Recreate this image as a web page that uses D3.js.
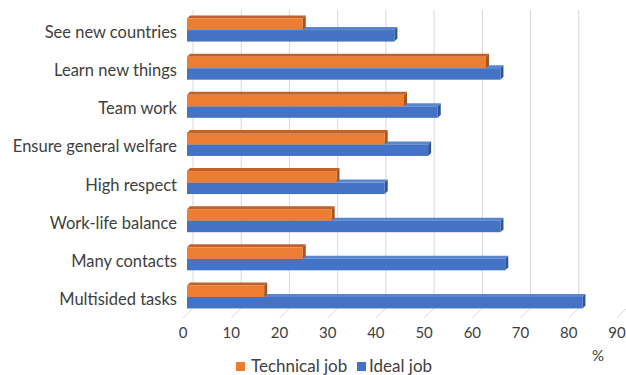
<!DOCTYPE html>
<html lang="en">
<head>
    <meta charset="UTF-8">
    <title>Technical job vs ideal job</title>
    <script src="https://d3js.org/d3.v7.min.js"></script>
    <style>
        body { margin: 0; background: #fff; }
        svg text { font-family: Lato, "Open Sans", sans-serif; fill: #404040; }
    </style>
</head>
<body>
    <div id="chart"></div>
    <script>
        // data (%)
        const categories = ["See new countries", "Learn new things", "Team work", "Ensure general welfare",
            "High respect", "Work-life balance", "Many contacts", "Multisided tasks"];
        const technicalJob = [24, 62, 45, 41, 31, 30, 24, 16];
        const idealJob = [43, 65, 52, 50, 41, 65, 66, 82];
        const ticks = [0, 10, 20, 30, 40, 50, 60, 70, 80, 90];
        const seriesNames = ["Technical job", "Ideal job"];

        const width = 626, height = 375;
        const colors = {
            "Technical job": { front: "#ed7d31", top: "#c0602a", side: "#a9541f" },
            "Ideal job": { front: "#4472c4", top: "#5a86d0", side: "#2f5597" }
        };
        const dx = 3, dy = -3; // 3d depth of the bars

        const svg = d3.select("#chart").append("svg")
            .attr("width", width)
            .attr("height", height);

        const x = d3.scaleLinear().domain([0, 90]).range([187, 621]);
        const y = d3.scaleBand().domain(categories).range([11, 316]);
        const y1 = d3.scaleBand().domain(seriesNames).range([-11.5, 11.5]);

        // gridlines with the little floor slant
        const grid = svg.append("g");
        ticks.forEach(t => {
            grid.append("path")
                .attr("d", `M${x(t) + 6},10 L${x(t) + 6},308 L${x(t) - 4},318`)
                .attr("fill", "none")
                .attr("stroke", "#d9d9d9")
                .attr("stroke-width", 1);
        });

        // tick labels
        svg.append("g").selectAll("text")
            .data(ticks)
            .join("text")
            .attr("x", d => x(d) - 4)
            .attr("y", 338)
            .attr("text-anchor", "middle")
            .attr("font-size", 15)
            .text(d => d);

        svg.append("text")
            .attr("x", 598)
            .attr("y", 361)
            .attr("text-anchor", "middle")
            .attr("font-size", 15)
            .text("%");

        // category labels
        svg.append("g").selectAll("text")
            .data(categories)
            .join("text")
            .attr("x", 177)
            .attr("y", d => y(d) + y.bandwidth() / 2 + 8)
            .attr("text-anchor", "end")
            .attr("font-size", 16.5)
            .text(d => d);

        const rows = categories.map((c, i) => ({ c, tech: technicalJob[i], ideal: idealJob[i] }));

        function bar3d(g, name, value, c) {
            const x0 = x(0), x1 = x(value);
            const top = y(c) + y.bandwidth() / 2 + y1(name);
            const h = y1.bandwidth();
            const col = colors[name];
            g.append("polygon")
                .attr("points", [[x0, top], [x0 + dx, top + dy], [x1 + dx, top + dy], [x1, top]].join(" "))
                .attr("fill", col.top);
            g.append("polygon")
                .attr("points", [[x1, top], [x1 + dx, top + dy], [x1 + dx, top + h + dy], [x1, top + h]].join(" "))
                .attr("fill", col.side);
            g.append("rect")
                .attr("x", x0)
                .attr("y", top)
                .attr("width", x1 - x0)
                .attr("height", h)
                .attr("fill", col.front);
        }

        const bars = svg.append("g");
        rows.forEach(r => {
            const g = bars.append("g");
            bar3d(g, "Ideal job", r.ideal, r.c);
            bar3d(g, "Technical job", r.tech, r.c);
        });

        // legend
        const legend = svg.append("g");
        const legendItems = [
            { name: "Technical job", x: 236, tx: 251 },
            { name: "Ideal job", x: 357, tx: 369 }
        ];
        legendItems.forEach(d => {
            legend.append("rect")
                .attr("x", d.x).attr("y", 362)
                .attr("width", 9).attr("height", 9)
                .attr("fill", colors[d.name].front);
            legend.append("text")
                .attr("x", d.tx).attr("y", 372)
                .attr("font-size", 17)
                .text(d.name);
        });
    </script>
</body>
</html>
